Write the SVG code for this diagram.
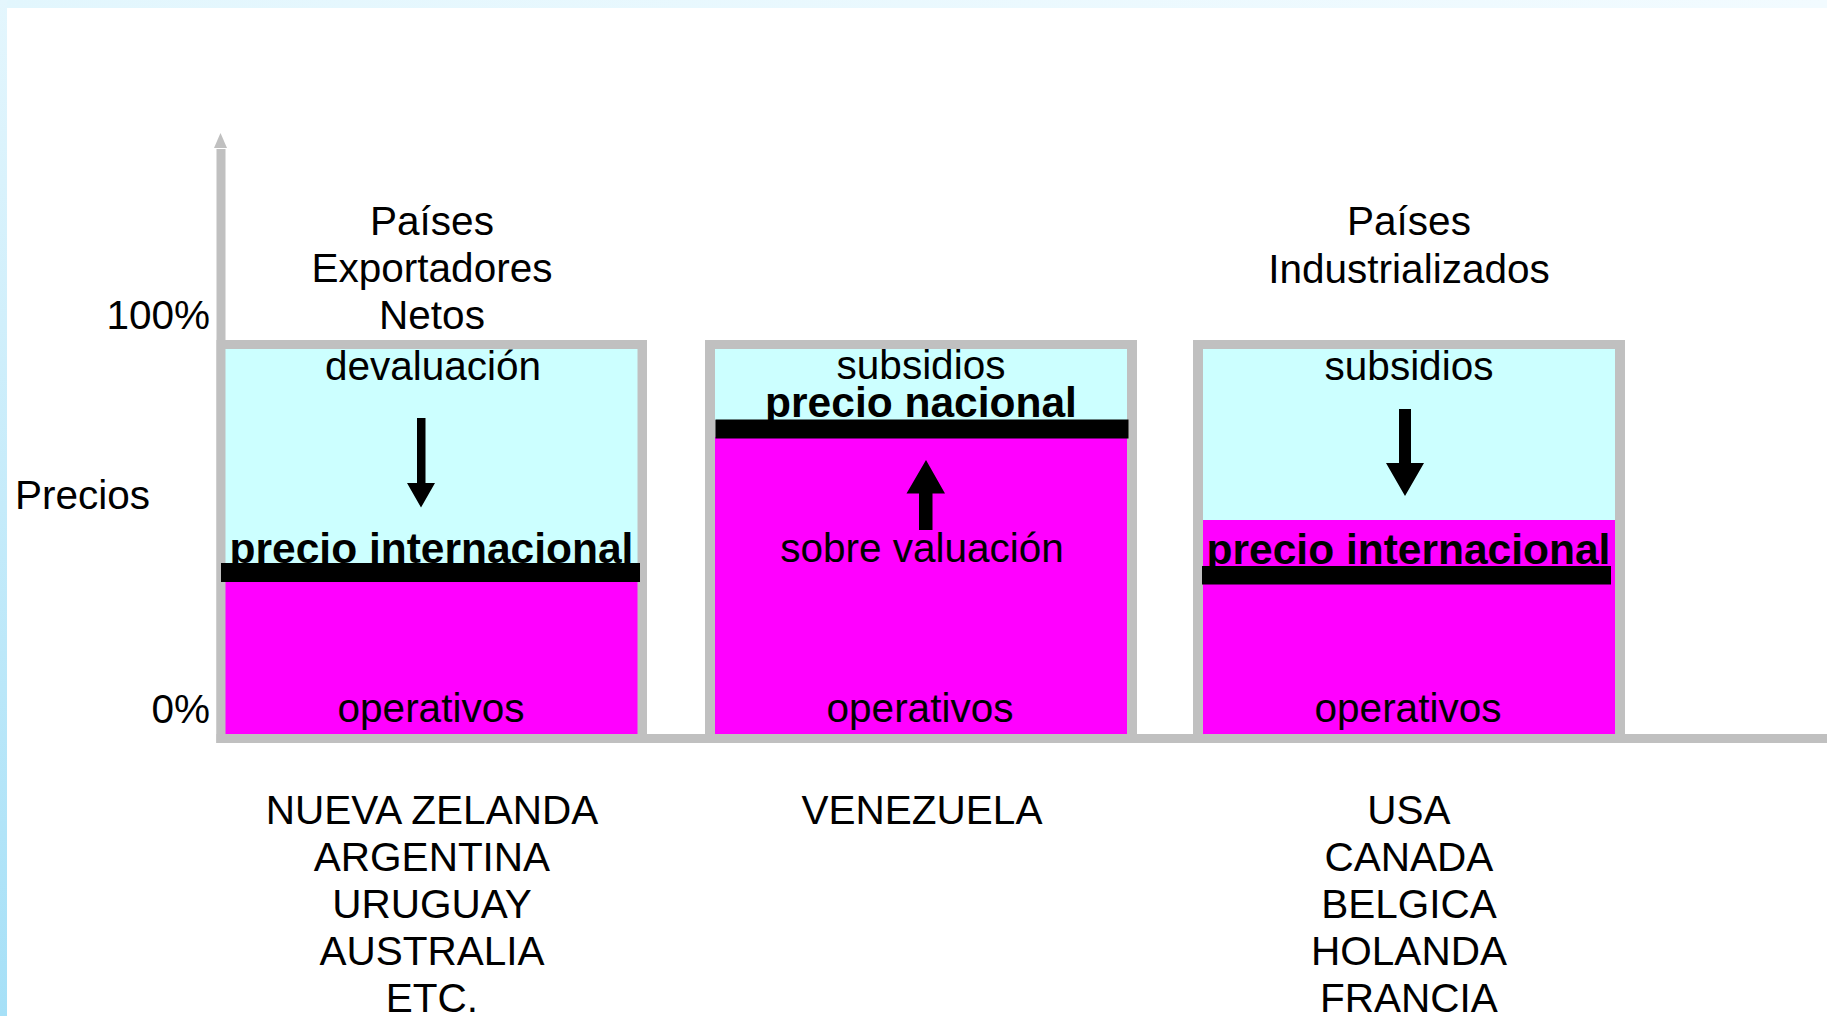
<svg xmlns="http://www.w3.org/2000/svg" width="1827" height="1016" viewBox="0 0 1827 1016">
<defs>
<linearGradient id="lg" x1="0" y1="0" x2="0" y2="1">
<stop offset="0" stop-color="#e4f6fd"/>
<stop offset="1" stop-color="#a6e0f7"/>
</linearGradient>
<linearGradient id="tg" x1="0" y1="0" x2="1" y2="0">
<stop offset="0" stop-color="#e2f6fd"/>
<stop offset="1" stop-color="#f2fbff"/>
</linearGradient>
</defs>
<style>
text{font-family:"Liberation Sans",Arial,sans-serif;font-size:40.5px;fill:#000;text-anchor:middle}
.b{font-weight:bold;font-size:42.5px}
.r{text-anchor:end}
.l{text-anchor:start}
.frame{fill:#c0c0c0}
.cy{fill:#ccffff}
.mg{fill:#ff00ff}
.bar{fill:#000}
.arr{fill:#000}
</style>
<rect width="1827" height="1016" fill="#fff"/>
<rect x="0" y="0" width="1827" height="8" fill="url(#tg)"/>
<rect x="0" y="0" width="7" height="1016" fill="url(#lg)"/>

<g id="axes">
<rect x="216.5" y="149" width="9" height="594" class="frame"/>
<polygon points="220.5,133 214,148 227,148" class="frame"/>
<rect x="216.5" y="734" width="1610.5" height="9" class="frame"/>
<text x="210" y="329" class="r">100%</text>
<text x="210" y="723" class="r">0%</text>
<text x="15" y="509" class="l">Precios</text>
</g>

<g id="box-exportadores">
<text x="432" y="235">Países</text>
<text x="432" y="282">Exportadores</text>
<text x="432" y="329">Netos</text>
<rect x="216.5" y="340" width="430.5" height="403" class="frame"/>
<rect x="225.5" y="349" width="412" height="215" class="cy"/>
<rect x="225.5" y="580" width="412" height="154" class="mg"/>
<text x="433" y="380">devaluación</text>
<text x="431.5" y="563" class="b">precio internacional</text>
<rect x="221" y="563" width="419" height="19" class="bar"/>
<text x="431" y="722">operativos</text>
<text x="432" y="824">NUEVA ZELANDA</text>
<text x="432" y="871">ARGENTINA</text>
<text x="432" y="918">URUGUAY</text>
<text x="432" y="965">AUSTRALIA</text>
<text x="432" y="1012">ETC.</text>
</g>

<g id="box-venezuela">
<rect x="705" y="340" width="432" height="403" class="frame"/>
<rect x="715" y="349" width="412" height="71" class="cy"/>
<rect x="715" y="437" width="412" height="297" class="mg"/>
<text x="921" y="379">subsidios</text>
<text x="921" y="417" class="b">precio nacional</text>
<rect x="715.5" y="419.5" width="413" height="19" class="bar"/>
<text x="922" y="562">sobre valuación</text>
<text x="920" y="722">operativos</text>
<text x="922" y="824">VENEZUELA</text>
</g>

<g id="box-industrializados">
<text x="1409" y="235">Países</text>
<text x="1409" y="283">Industrializados</text>
<rect x="1193" y="340" width="432" height="403" class="frame"/>
<rect x="1203" y="349" width="412" height="172" class="cy"/>
<rect x="1203" y="520" width="412" height="214" class="mg"/>
<text x="1409" y="380">subsidios</text>
<text x="1408.5" y="564" class="b">precio internacional</text>
<rect x="1202" y="566" width="409" height="18.5" class="bar"/>
<text x="1408" y="722">operativos</text>
<text x="1409" y="824">USA</text>
<text x="1409" y="871">CANADA</text>
<text x="1409" y="918">BELGICA</text>
<text x="1409" y="965">HOLANDA</text>
<text x="1409" y="1012">FRANCIA</text>
</g>

<g id="connectors">
<polygon class="arr" points="417,418 425.5,418 425.5,483 435,483 421,507.5 407,483 417,483"/>
<polygon class="arr" points="919,530 932.5,530 932.5,493.5 945,493.5 926,460 906.5,493.5 919,493.5"/>
<polygon class="arr" points="1399,409 1411,409 1411,463 1424,463 1405,496 1386,463 1399,463"/>
</g>
</svg>
